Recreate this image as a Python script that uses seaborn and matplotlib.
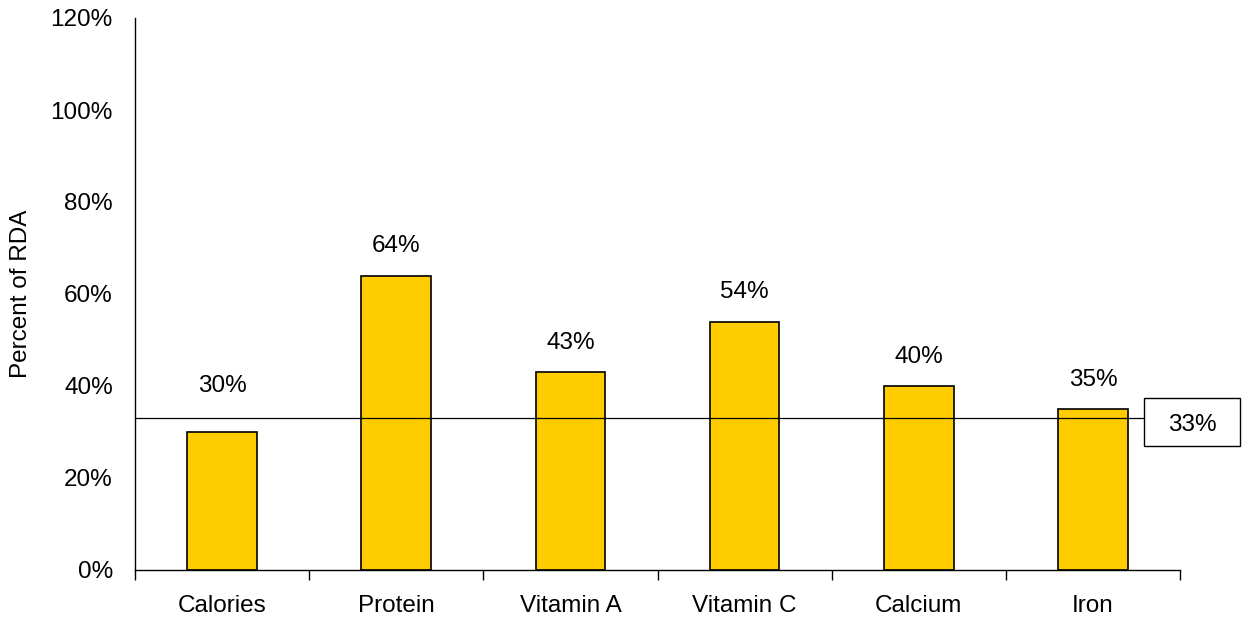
import matplotlib
matplotlib.use("Agg")
import matplotlib.pyplot as plt
from matplotlib.patches import Rectangle
import seaborn as sns
import numpy as np

nutrients = ["Calories", "Protein", "Vitamin A", "Vitamin C", "Calcium", "Iron"]
percent_rda = [30, 64, 43, 54, 40, 35]
target = 33
yticks = [0, 20, 40, 60, 80, 100, 120]

sns.set_style("white")
plt.rcParams["font.family"] = ["Liberation Sans", "DejaVu Sans"]
plt.rcParams["text.color"] = "black"
plt.rcParams["axes.labelcolor"] = "black"
plt.rcParams["xtick.color"] = "black"
plt.rcParams["ytick.color"] = "black"
fs = 17.5

fig = plt.figure(figsize=(12.48, 6.17), dpi=100)
ax = fig.add_axes([135 / 1248, 47 / 617, 1045 / 1248, 552 / 617])

sns.barplot(x=nutrients, y=percent_rda, color="#FFCC00", saturation=1,
            edgecolor="black", linewidth=1.2, width=0.4, ax=ax)

# value labels (Calories sits higher so it clears the 33% line)
for i, v in enumerate(percent_rda):
    off = 33 if i == 0 else 21
    ax.annotate(f"{v}%", (i, v), xytext=(0, off), textcoords="offset points",
                ha="center", va="center", fontsize=fs)

# target line with boxed label
ax.axhline(target, xmin=0, xmax=(1144 - 135) / 1045, color="black", lw=0.9)
fig.add_artist(Rectangle((1144 / 1248, (617 - 446) / 617), 96 / 1248, 48 / 617,
                         transform=fig.transFigure, fc="white", ec="black", lw=1))
fig.text(1192 / 1248, (617 - 425) / 617, f"{target}%", ha="center", va="center",
         fontsize=fs, zorder=5)

ax.set_xlim(-0.5, 5.5)
ax.set_ylim(0, 120)
ax.set_yticks(yticks)
ax.set_yticklabels([f"{t}%" for t in yticks], fontsize=fs)
ax.tick_params(axis="y", length=0, pad=16)
ax.set_xticks(range(len(nutrients)))
ax.set_xticklabels(nutrients, fontsize=fs)
ax.tick_params(axis="x", which="major", length=0, pad=18)
ax.set_xticks(np.arange(-0.5, 6, 1), minor=True)
ax.tick_params(axis="x", which="minor", length=7, width=1, color="black", direction="out", bottom=True)
ax.set_xlabel("")
ax.set_ylabel("Percent of RDA", fontsize=fs, labelpad=13)

for s in ["top", "right"]:
    ax.spines[s].set_visible(False)
for s in ["left", "bottom"]:
    ax.spines[s].set_color("black")
    ax.spines[s].set_linewidth(1)

fig.savefig("out.png", dpi=100)
